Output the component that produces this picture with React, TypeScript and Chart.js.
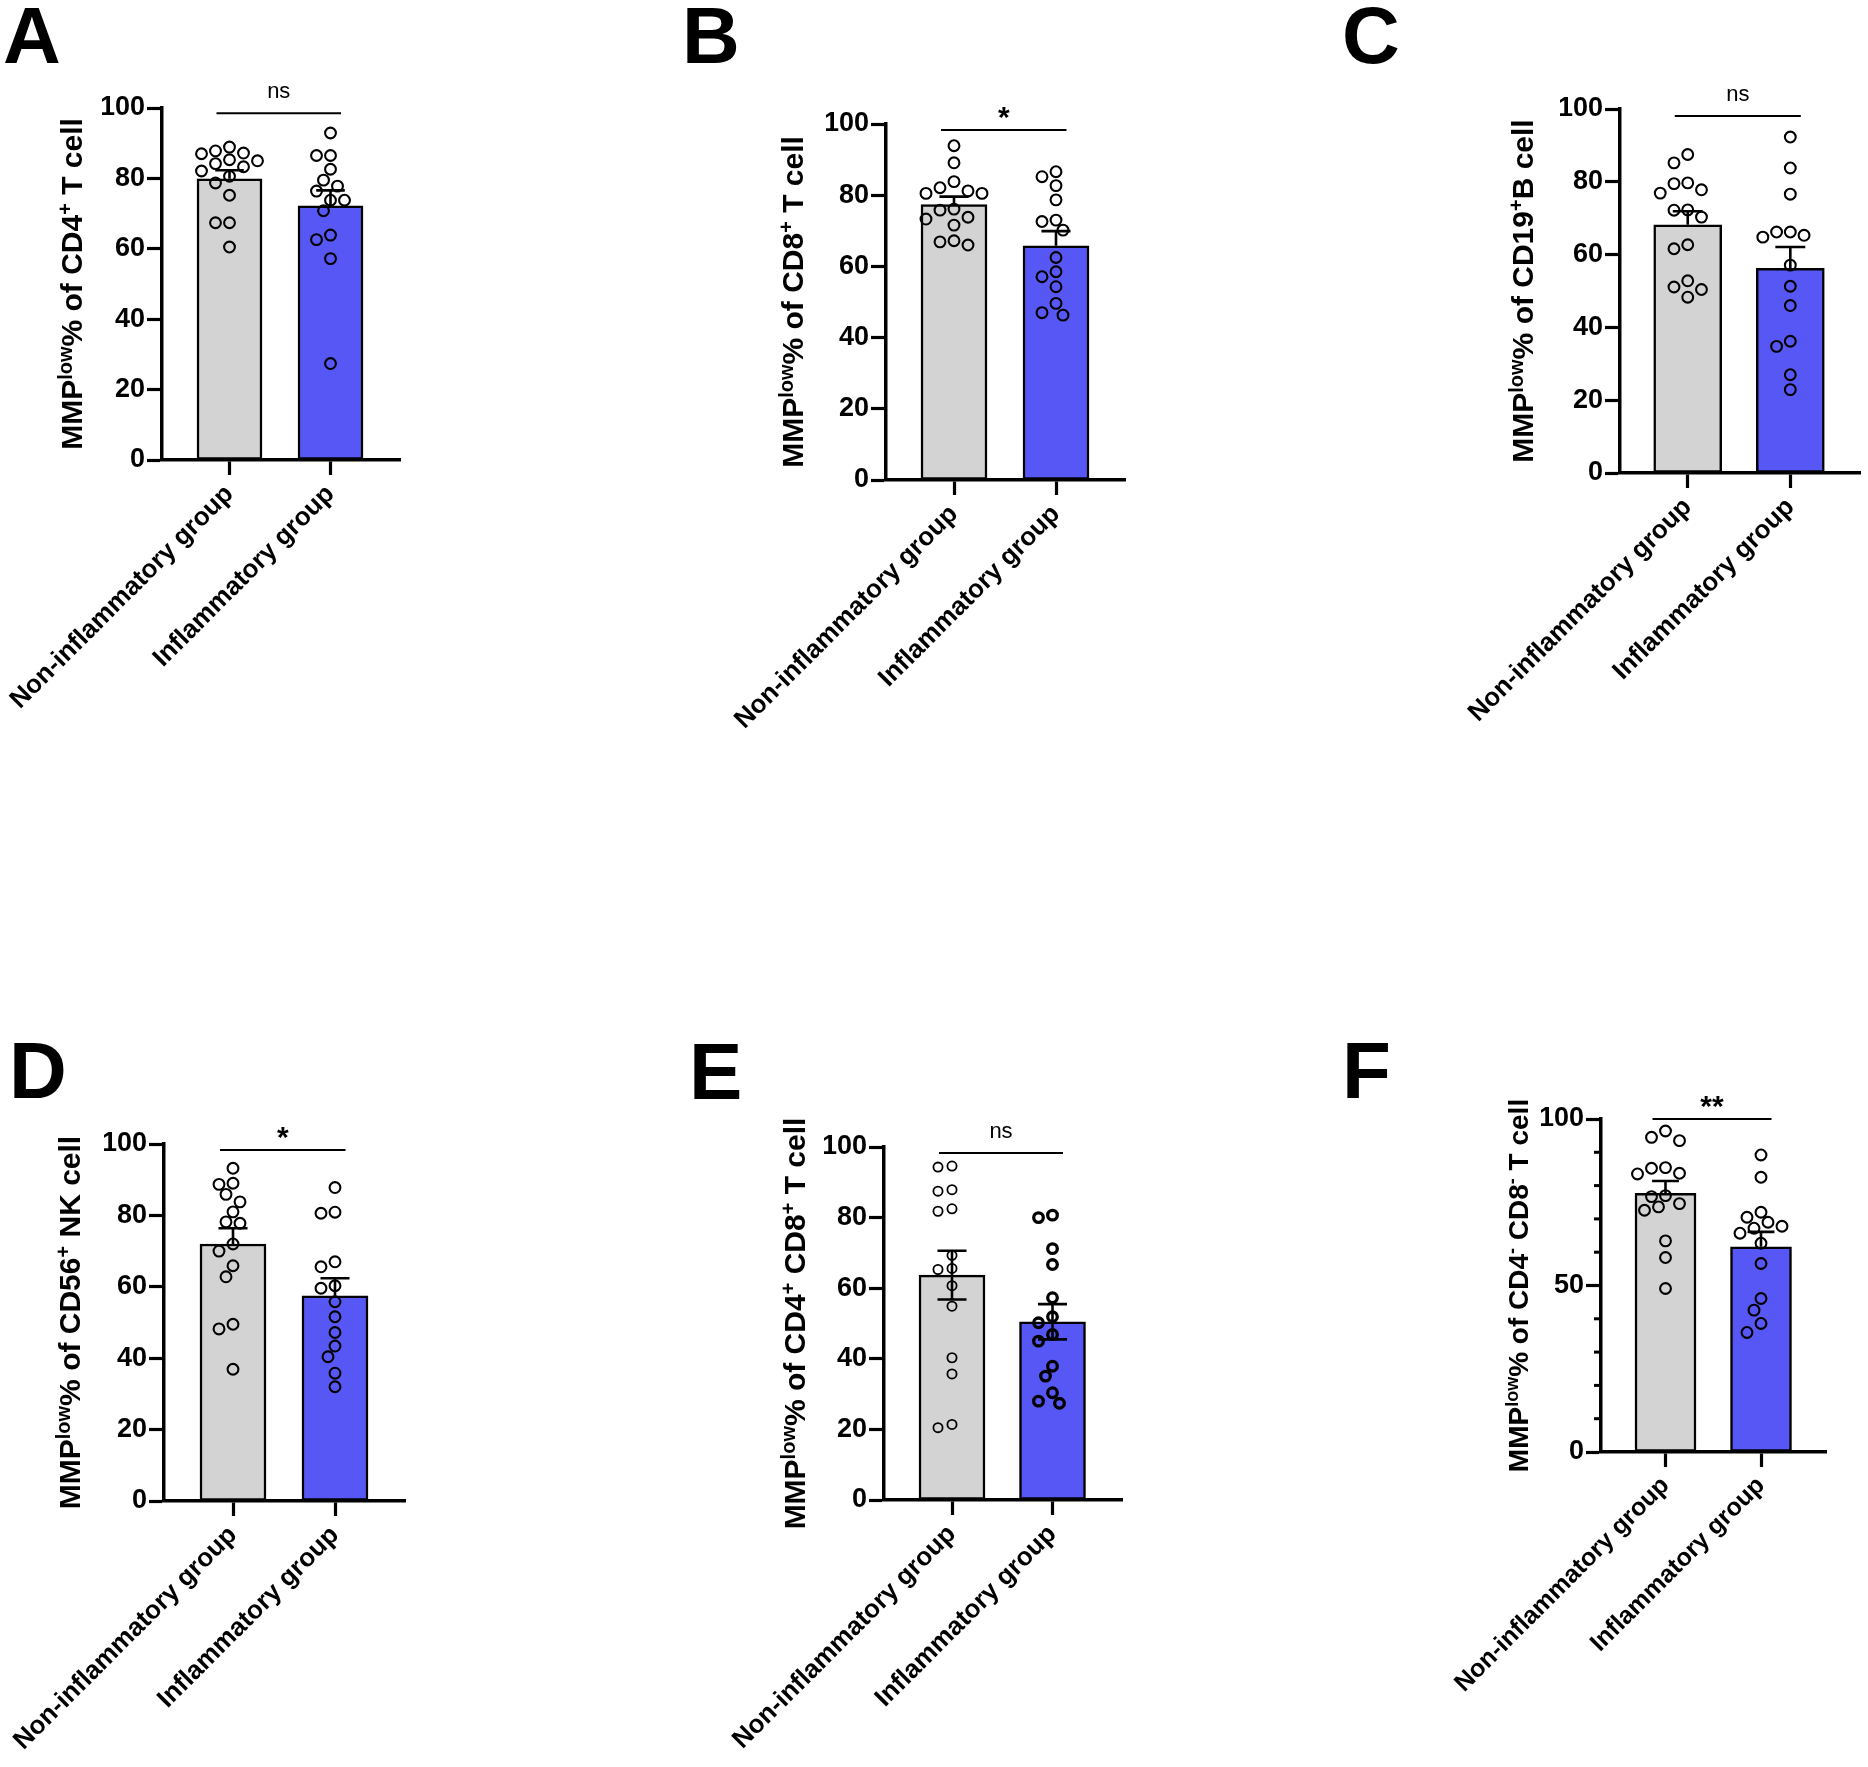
import React, { useEffect, useRef } from "react";
import { Chart, registerables } from "chart.js";

Chart.register(...registerables);

const FONT = "'Liberation Sans', Arial, Helvetica, sans-serif";
const GRAY = "#d3d3d3";
const BLUE = "#5757f5";

// ---------- data ----------
const GROUP_LABELS = ["Non-inflammatory group", "Inflammatory group"];
const Y_TICKS = [0, 20, 40, 60, 80, 100];
const F_Y_TICKS = [0, 50, 100];
const F_Y_MINOR_TICKS = [10, 20, 30, 40, 60, 70, 80, 90];

const A_NON = [87.8, 87.0, 85.3, 87.2, 88.9, 83.3, 82.1, 84.2, 85.0, 78.7, 80.6, 75.2, 67.4, 67.4, 60.5];
const A_INF = [92.9, 86.5, 86.5, 82.6, 79.5, 76.4, 77.8, 73.8, 73.8, 70.8, 63.9, 62.6, 57.2, 27.4];
const A_MEAN = [79.9, 72.2];
const A_SEM = [2.4, 4.4];

const B_NON = [93.9, 89.1, 83.8, 81.2, 80.5, 80.5, 82.1, 76.1, 75.8, 73.8, 73.3, 71.6, 66.0, 67.2, 66.9];
const B_INF = [86.6, 85.2, 82.7, 78.7, 72.6, 73.0, 70.2, 62.5, 58.5, 57.1, 54.3, 49.6, 46.3, 47.0];
const B_MEAN = [77.4, 65.8];
const B_SEM = [2.2, 4.1];

const C_NON = [87.5, 85.2, 79.7, 76.9, 77.8, 79.5, 72.3, 72.2, 70.3, 61.6, 62.7, 52.8, 48.3, 50.4, 51.1];
const C_INF = [92.3, 83.8, 76.6, 65.3, 64.8, 66.2, 66.2, 57.1, 51.3, 46.0, 34.8, 36.2, 27.0, 22.9];
const C_MEAN = [68.2, 56.2];
const C_SEM = [3.7, 5.9];

const D_NON = [93.2, 88.7, 89.0, 85.9, 83.8, 81.0, 78.2, 77.8, 72.0, 70.0, 65.9, 62.8, 49.5, 48.2, 36.9];
const D_INF = [87.8, 80.6, 80.9, 65.6, 67.0, 59.6, 60.3, 55.8, 51.6, 47.2, 43.4, 40.4, 35.8, 32.0];
const D_MEAN = [72.0, 57.5];
const D_SEM = [4.4, 4.9];

const E_NON = [94.3, 94.6, 87.5, 87.9, 82.5, 81.8, 69.3, 65.6, 65.3, 60.7, 54.9, 40.3, 35.7, 20.5, 21.4];
const E_INF = [80.0, 80.7, 71.2, 66.7, 57.3, 50.2, 51.9, 45.0, 46.9, 35.1, 37.9, 30.4, 27.4, 28.0];
const E_MEAN = [63.7, 50.5];
const E_SEM = [6.9, 5.0];

const F_NON = [94.5, 93.5, 96.4, 85.2, 83.5, 83.7, 85.4, 74.6, 76.7, 77.0, 72.6, 73.6, 63.4, 58.4, 49.1];
const F_INF = [89.2, 82.5, 72.0, 69.0, 65.7, 70.5, 67.2, 62.7, 67.8, 56.6, 46.1, 42.6, 38.6, 35.9];
const F_MEAN = [77.7, 61.6];
const F_SEM = [3.7, 4.5];

type Part = [string, boolean];
const A_TITLE: Part[] = [["MMP", false], ["low", true], ["% of CD4", false], ["+", true], [" T cell", false]];
const B_TITLE: Part[] = [["MMP", false], ["low", true], ["% of CD8", false], ["+", true], [" T cell", false]];
const C_TITLE: Part[] = [["MMP", false], ["low", true], ["% of CD19", false], ["+", true], ["B cell", false]];
const D_TITLE: Part[] = [["MMP", false], ["low", true], ["% of CD56", false], ["+", true], [" NK cell", false]];
const E_TITLE: Part[] = [["MMP", false], ["low", true], ["% of CD4", false], ["+", true], [" CD8", false], ["+", true], [" T cell", false]];
const F_TITLE: Part[] = [["MMP", false], ["low", true], ["% of CD4", false], ["-", true], [" CD8", false], ["-", true], [" T cell", false]];

interface Spec {
  letter: string;
  title: Part[];
  sig: string;
  non: number[];
  inf: number[];
  mean: number[];
  sem: number[];
  yTicks: number[];
  yMinor: number[];
}

const SPECS: Spec[] = [
  { letter: "A", title: A_TITLE, sig: "ns", non: A_NON, inf: A_INF, mean: A_MEAN, sem: A_SEM, yTicks: Y_TICKS, yMinor: [] },
  { letter: "B", title: B_TITLE, sig: "*", non: B_NON, inf: B_INF, mean: B_MEAN, sem: B_SEM, yTicks: Y_TICKS, yMinor: [] },
  { letter: "C", title: C_TITLE, sig: "ns", non: C_NON, inf: C_INF, mean: C_MEAN, sem: C_SEM, yTicks: Y_TICKS, yMinor: [] },
  { letter: "D", title: D_TITLE, sig: "*", non: D_NON, inf: D_INF, mean: D_MEAN, sem: D_SEM, yTicks: Y_TICKS, yMinor: [] },
  { letter: "E", title: E_TITLE, sig: "ns", non: E_NON, inf: E_INF, mean: E_MEAN, sem: E_SEM, yTicks: Y_TICKS, yMinor: [] },
  { letter: "F", title: F_TITLE, sig: "**", non: F_NON, inf: F_INF, mean: F_MEAN, sem: F_SEM, yTicks: F_Y_TICKS, yMinor: F_Y_MINOR_TICKS },
];

// ---------- layout (page pixels) ----------
interface Layout {
  box: [number, number, number, number];
  axisX: number;
  xEnd: number;
  yTop: number;
  yBottom: number;
  c0: number;
  c1: number;
  barW: number;
  titleX: number;
  titleSize: number;
  catSize: number;
  letterPos: [number, number];
  sigValue: number;
  errBoth: boolean;
  pts: { r: number; bw: number }[];
}

const THIN = { r: 5.4, bw: 2.1 };
const LAYOUTS: Layout[] = [
  { box: [0, 0, 640, 880], axisX: 162, xEnd: 400, yTop: 108, yBottom: 460, c0: 229.5, c1: 330.5, barW: 65, titleX: 82, titleSize: 30, catSize: 26, letterPos: [3, 63], sigValue: 98.5, errBoth: false, pts: [THIN, THIN] },
  { box: [640, 0, 660, 880], axisX: 886, xEnd: 1125, yTop: 124, yBottom: 480, c0: 954, c1: 1056, barW: 66, titleX: 803, titleSize: 30, catSize: 26, letterPos: [682, 63], sigValue: 98.3, errBoth: false, pts: [THIN, THIN] },
  { box: [1300, 0, 568, 880], axisX: 1620, xEnd: 1865, yTop: 109, yBottom: 473, c0: 1689, c1: 1793.5, barW: 68, titleX: 1533, titleSize: 30, catSize: 26, letterPos: [1342, 63], sigValue: 98.1, errBoth: false, pts: [THIN, THIN] },
  { box: [0, 880, 640, 887], axisX: 164, xEnd: 405, yTop: 1144, yBottom: 1501, c0: 233, c1: 335, barW: 66, titleX: 80, titleSize: 30, catSize: 26, letterPos: [9, 1098], sigValue: 98.3, errBoth: false, pts: [THIN, THIN] },
  { box: [640, 880, 660, 887], axisX: 884, xEnd: 1122, yTop: 1147, yBottom: 1500, c0: 952, c1: 1052.5, barW: 66, titleX: 805, titleSize: 30, catSize: 26, letterPos: [689, 1099], sigValue: 98.3, errBoth: true, pts: [{ r: 4.6, bw: 1.8 }, { r: 4.8, bw: 3.3 }] },
  { box: [1300, 880, 568, 887], axisX: 1601, xEnd: 1826, yTop: 1119, yBottom: 1452, c0: 1665.5, c1: 1761, barW: 61, titleX: 1528, titleSize: 28, catSize: 25, letterPos: [1342, 1098], sigValue: 100, errBoth: false, pts: [THIN, THIN] },
];

// simple beeswarm: pixel offsets so hollow points do not overlap
function swarm(values: number[], pxPerY: number, step: number, minDist: number): number[] {
  const order = values.map((_, i) => i).sort((a, b) => values[b] - values[a]);
  const placed: { x: number; y: number }[] = [];
  const out = values.map(() => 0);
  const cands: number[] = [0];
  for (let k = 1; k <= 8; k++) cands.push(-k, k);
  for (const i of order) {
    const y = values[i] * pxPerY;
    for (const k of cands) {
      const x = k * step;
      if (placed.every((p) => (p.x - x) ** 2 + (p.y - y) ** 2 >= minDist * minDist)) {
        placed.push({ x, y });
        out[i] = x;
        break;
      }
    }
  }
  return out;
}

function Panel({ spec, layout }: { spec: Spec; layout: Layout }) {
  const ref = useRef<HTMLCanvasElement>(null);
  const [bx, by, bw, bh] = layout.box;

  useEffect(() => {
    if (!ref.current) return;
    const unit = layout.c1 - layout.c0;
    const xMin = -(layout.c0 - layout.axisX) / unit;
    const xMax = 1 + (layout.xEnd - layout.c1) / unit;
    const pxPerY = (layout.yBottom - layout.yTop) / 100;
    const Wy = 60;
    const Hx = 250;
    const groups = [spec.non, spec.inf];
    const jit = groups.map((g, gi) => {
      const p = layout.pts[gi];
      const outer = p.r + p.bw / 2;
      return swarm(g, pxPerY, 7, outer * 2 - 0.8).map((v) => v / unit);
    });

    const decor = {
      id: "decor",
      afterDatasetDraw(chart: any, args: any) {
        if (args.index !== 0) return;
        const ctx = chart.ctx;
        const xs = chart.scales.x;
        const ys = chart.scales.y;
        ctx.save();
        ctx.strokeStyle = "#000";
        ctx.lineWidth = 2.6;
        const cap = layout.barW * 0.22;
        spec.mean.forEach((m, i) => {
          const x = xs.getPixelForValue(i);
          const yHi = ys.getPixelForValue(m + spec.sem[i]);
          const yM = ys.getPixelForValue(m);
          const yLo = ys.getPixelForValue(m - spec.sem[i]);
          ctx.beginPath();
          ctx.moveTo(x, layout.errBoth ? yLo : yM);
          ctx.lineTo(x, yHi);
          ctx.moveTo(x - cap, yHi);
          ctx.lineTo(x + cap, yHi);
          if (layout.errBoth) {
            ctx.moveTo(x - cap, yLo);
            ctx.lineTo(x + cap, yLo);
          }
          ctx.stroke();
        });
        ctx.restore();
      },
      afterDraw(chart: any) {
        const ctx = chart.ctx;
        const xs = chart.scales.x;
        const ys = chart.scales.y;
        ctx.save();
        ctx.fillStyle = "#000";
        ctx.strokeStyle = "#000";
        // panel letter
        ctx.font = `bold 80px ${FONT}`;
        ctx.textAlign = "left";
        ctx.textBaseline = "alphabetic";
        ctx.fillText(spec.letter, layout.letterPos[0] - bx, layout.letterPos[1] - by);
        // y-axis title with superscripts
        const main = layout.titleSize;
        const sup = Math.round(main * 0.65);
        const fMain = `bold ${main}px ${FONT}`;
        const fSup = `bold ${sup}px ${FONT}`;
        let total = 0;
        const widths = spec.title.map(([t, s]) => {
          ctx.font = s ? fSup : fMain;
          const w = ctx.measureText(t).width;
          total += w;
          return w;
        });
        const cy = (ys.top + ys.bottom) / 2;
        ctx.save();
        ctx.translate(layout.titleX - bx, cy);
        ctx.rotate(-Math.PI / 2);
        let px = -total / 2;
        spec.title.forEach(([t, s], i) => {
          ctx.font = s ? fSup : fMain;
          ctx.fillText(t, px, s ? -main * 0.34 : 0);
          px += widths[i];
        });
        ctx.restore();
        // significance line
        const x0 = xs.getPixelForValue(0) - 13;
        const x1 = xs.getPixelForValue(1) + 10.5;
        const ly = ys.getPixelForValue(layout.sigValue);
        ctx.lineWidth = 2;
        ctx.beginPath();
        ctx.moveTo(x0, ly);
        ctx.lineTo(x1, ly);
        ctx.stroke();
        const star = spec.sig.indexOf("*") >= 0;
        ctx.font = star ? `bold 30px ${FONT}` : `22px ${FONT}`;
        ctx.textAlign = "center";
        ctx.fillText(spec.sig, (x0 + x1) / 2, ly - (star ? 3.5 : 15));
        // minor ticks
        ctx.lineWidth = 3;
        spec.yMinor.forEach((v) => {
          const y = ys.getPixelForValue(v);
          ctx.beginPath();
          ctx.moveTo(ys.right - 7, y);
          ctx.lineTo(ys.right, y);
          ctx.stroke();
        });
        ctx.restore();
      },
    };

    const chart = new Chart(ref.current, {
      type: "bar",
      data: {
        datasets: [
          {
            type: "bar",
            data: spec.mean.map((m, i) => ({ x: i, y: m })),
            backgroundColor: [GRAY, BLUE],
            borderColor: "#000",
            borderWidth: 2.5,
            borderSkipped: false,
            barThickness: layout.barW,
            order: 2,
          } as any,
          ...groups.map(
            (g, gi) =>
              ({
                type: "scatter",
                data: g.map((v, i) => ({ x: gi + jit[gi][i], y: v })),
                pointRadius: layout.pts[gi].r,
                pointBorderWidth: layout.pts[gi].bw,
                borderWidth: layout.pts[gi].bw,
                pointBorderColor: "#000",
                borderColor: "#000",
                pointBackgroundColor: "rgba(0,0,0,0)",
                backgroundColor: "rgba(0,0,0,0)",
                showLine: false,
                clip: false,
                order: 1,
              } as any)
          ),
        ],
      },
      options: {
        responsive: false,
        maintainAspectRatio: false,
        animation: false,
        events: [],
        layout: {
          padding: {
            left: layout.axisX - bx - Wy,
            top: layout.yTop - by,
            right: bx + bw - layout.xEnd,
            bottom: by + bh - layout.yBottom - Hx,
          },
        },
        plugins: {
          legend: { display: false },
          tooltip: { enabled: false },
          title: { display: false },
        },
        scales: {
          x: {
            type: "linear",
            min: xMin,
            max: xMax,
            offset: false,
            afterBuildTicks: (s: any) => {
              s.ticks = GROUP_LABELS.map((_, i) => ({ value: i }));
            },
            afterFit: (s: any) => {
              s.height = Hx;
              s.paddingLeft = 0;
              s.paddingRight = 0;
            },
            ticks: {
              autoSkip: false,
              minRotation: 45,
              maxRotation: 45,
              padding: 4,
              color: "#000",
              font: { family: FONT, size: layout.catSize, weight: "bold" },
              callback: (v: any) => GROUP_LABELS[Math.round(Number(v))] ?? "",
            },
            grid: { display: true, drawOnChartArea: false, drawTicks: true, tickLength: 15, tickWidth: 3.2, tickColor: "#000", offset: false },
            border: { display: true, color: "#000", width: 3.5, z: 1 },
          } as any,
          y: {
            type: "linear",
            min: 0,
            max: 100,
            afterBuildTicks: (s: any) => {
              s.ticks = spec.yTicks.map((v) => ({ value: v }));
            },
            afterFit: (s: any) => {
              s.width = Wy;
              s.paddingTop = 0;
              s.paddingBottom = 0;
            },
            ticks: {
              autoSkip: false,
              padding: 2,
              color: "#000",
              font: { family: FONT, size: 27, weight: "bold" },
              callback: (v: any) => String(v),
            },
            grid: { display: true, drawOnChartArea: false, drawTicks: true, tickLength: 15, tickWidth: 3.2, tickColor: "#000" },
            border: { display: true, color: "#000", width: 3.5, z: 1 },
          } as any,
        },
      },
      plugins: [decor as any],
    });
    return () => chart.destroy();
  }, [spec, layout]);

  return (
    <canvas
      ref={ref}
      width={bw}
      height={bh}
      style={{ position: "absolute", left: bx, top: by, width: bw, height: bh }}
    />
  );
}

export default function App() {
  useEffect(() => {
    document.body.style.margin = "0";
    document.body.style.background = "#fff";
  }, []);
  return (
    <div style={{ position: "relative", width: 1868, height: 1767, background: "#fff", overflow: "hidden" }}>
      {SPECS.map((s, i) => (
        <Panel key={s.letter} spec={s} layout={LAYOUTS[i]} />
      ))}
    </div>
  );
}
